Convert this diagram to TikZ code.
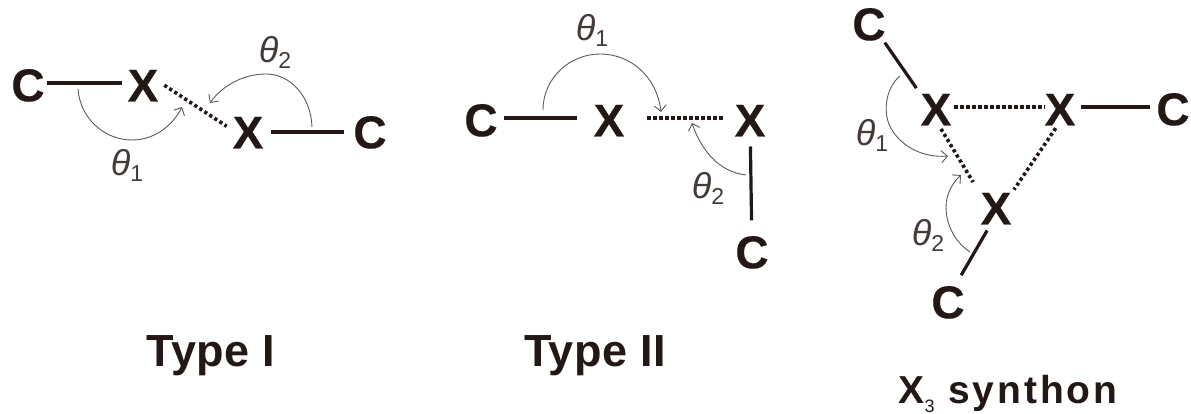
\documentclass[tikz,border=0pt]{standalone}
\usepackage{fontspec}
\setmainfont{Liberation Sans}
\usetikzlibrary{arrows.meta,calc}
\definecolor{ink}{HTML}{231815}
\definecolor{arcgray}{HTML}{5A5A5A}
\tikzset{
  atom/.style={font=\fontsize{46}{46}\selectfont\bfseries\addfontfeature{FakeBold=0.4},text=ink,inner sep=6pt,outer sep=0pt,text height=37pt},
  ang/.style={font=\fontsize{36}{36}\selectfont\itshape,text=ink!85,inner sep=0pt},
  ttl/.style={anchor=base,font=\fontsize{45}{45}\selectfont\bfseries\addfontfeature{LetterSpace=1},text=ink,inner sep=0pt},
  bond/.style={draw=ink,line width=3.2pt},
  hbond/.style={draw=ink,line width=3.6pt,dash pattern=on 3.2pt off 2.8pt},
  sweep/.style={draw=arcgray,line width=0.9pt,-{Straight Barb[length=6pt,width=12pt,line width=0.9pt]}}
}
\newcommand{\thsub}[1]{θ\raisebox{-6pt}{\normalfont\fontsize{23}{23}\selectfont #1}}
\begin{document}
\begin{tikzpicture}[x=1pt,y=-1pt]
\useasboundingbox (0,0) rectangle (1191,414);
% Type I
\node[atom] (a1) at (28,83) {C};
\node[atom] (a2) at (143,83) {X};
\node[atom,text height=33pt] (a3) at (248,132) {X};
\node[atom,text height=33pt] (a4) at (370,132) {C};
\draw[bond,shorten <=-3.5pt] (a1) -- (a2);
\draw[bond,shorten <=2pt,shorten >=3pt] (a3) -- (a4);
\draw[hbond] (a2.-6) -- (a3.165);
\coordinate (a5) at (78,89);
\coordinate (a6) at (182,107);
\coordinate (a7) at (312,127);
\coordinate (a8) at (210,103);
\draw[sweep] (a5) .. controls (80,118) and (104,140) .. (132,140) .. controls (155,140) and (173,125) .. (a6);
\draw[sweep] (a7) .. controls (311,96) and (290,74) .. (266,74) .. controls (243,74) and (222,86) .. (a8);
\node[ang] (a9) at (127,165) {\thsub{1}};
\node[ang] (a10) at (275,52) {\thsub{2}};
\node[ttl] (a11) at (211,366) {Type I};
% Type II
\node[atom] (b1) at (481,118) {C};
\node[atom] (b2) at (609,118) {X};
\node[atom] (b3) at (750,118) {X};
\node[atom] (b4) at (752,250) {C};
\draw[bond,shorten >=11pt] (b1) -- (b2);
\draw[bond,shorten <=4pt,shorten >=5pt] (b3) -- (b4);
\draw[hbond,shorten <=17pt,shorten >=6pt] (b2) -- (b3);
\coordinate (b5) at (543,110);
\coordinate (b6) at (661,112);
\coordinate (b7) at (746,175);
\coordinate (b8) at (692,123);
\draw[sweep] (b5) .. controls (543,78) and (570,54) .. (600,54) .. controls (632,54) and (657,78) .. (b6);
\draw[sweep] (b7) .. controls (719,172) and (701,150) .. (b8);
\node[ang] (b9) at (592,30) {\thsub{1}};
\node[ang] (b10) at (708,188) {\thsub{2}};
\node[ttl] (b11) at (595,366) {Type II};
% X3 synthon
\node[atom] (c1) at (869,22) {C};
\node[atom] (c2) at (936,107) {X};
\node[atom] (c3) at (1060,107) {X};
\node[atom] (c4) at (1173,107) {C};
\node[atom] (c5) at (996,206) {X};
\node[atom] (c6) at (948,300) {C};
\draw[bond,shorten <=-5pt,shorten >=-3pt] (c1.-53) -- (c2.135);
\draw[bond] (c3) -- (c4);
\draw[bond] (c5.-110) -- (c6.62);
\draw[hbond,shorten <=-3pt,shorten >=-6pt] (c2) -- (c3);
\draw[hbond,shorten <=-3pt,shorten >=3pt] (c2.-75) -- (c5.135);
\draw[hbond,shorten <=-4pt,shorten >=-6pt] (c3.-105) -- (c5.45);
\coordinate (c7) at (900,76);
\coordinate (c8) at (948,156);
\coordinate (c9) at (970,252);
\coordinate (c10) at (961,175);
\draw[sweep] (c7) .. controls (885,88) and (882,115) .. (892,130) .. controls (903,148) and (925,158) .. (c8);
\draw[sweep] (c9) .. controls (955,242) and (946,225) .. (946,207) .. controls (946,195) and (952,183) .. (c10);
\node[ang] (c11) at (872,135) {\thsub{1}};
\node[ang] (c12) at (928,235) {\thsub{2}};
\node[ttl,font=\fontsize{39}{39}\selectfont\bfseries\addfontfeature{LetterSpace=7.5}] (c13) at (1008,403) {X\raisebox{-9pt}{\fontsize{18}{18}\selectfont\mdseries 3} synthon};
\end{tikzpicture}
\end{document}
